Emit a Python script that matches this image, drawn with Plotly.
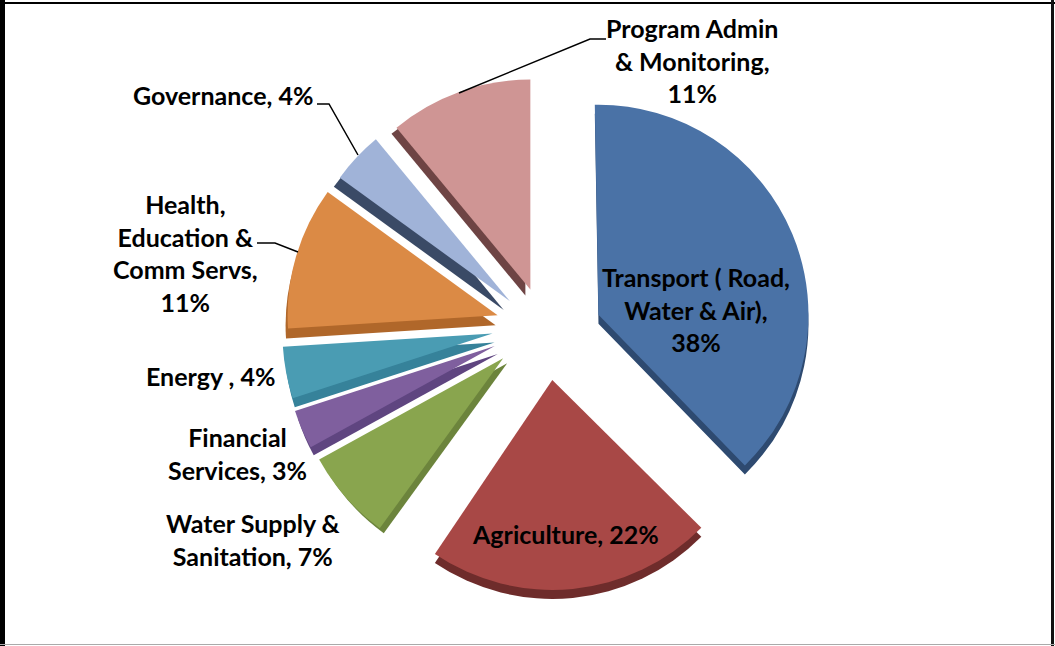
import plotly.graph_objects as go

W, H = 1055, 646
categories = ["Transport ( Road, Water & Air)", "Agriculture", "Water Supply & Sanitation",
              "Financial Services", "Energy", "Health, Education & Comm Servs",
              "Governance", "Program Admin & Monitoring"]
values = [38, 22, 7, 3, 4, 11, 4, 11]
pulls = [0.25, 0.21, 0.24, 0.24, 0.24, 0.25, 0.25, 0.22]
face_colors = ["#4A72A6", "#A84846", "#89A54E", "#7F5F9E", "#4A9CB3", "#DB8A45", "#A0B3D8", "#CF9594"]
side_colors = ["#2E4A70", "#6E2C2B", "#6C843C", "#5F4580", "#36829A", "#B0672A", "#3A4A66", "#6E4444"]
face_dx = [2, 0, -7, -7, -6, 0, 0, -2]
face_dy = [1, 2, -9, -8, -10, -4, 3, -1]
depth_dx = [0, 0, 4, 3, 2, -2, -6, -5]
depth_dy = [9, 9, 5, 8, 9, 10, 9, 6]
tilt = [-1, -2, 0, 0, 0, 0, 0, 0]

labels = ["Program Admin<br>& Monitoring,<br>11%", "Governance, 4%",
          "Health,<br>Education &<br>Comm Servs,<br>11%", "Energy , 4%",
          "Financial<br>Services, 3%", "Water Supply &<br>Sanitation, 7%",
          "Agriculture, 22%", "Transport ( Road,<br>Water & Air),<br>38%"]
label_x = [692, 223, 185, 211, 237, 253, 565, 696]
label_y = [61, 95, 253, 376, 453, 539, 534, 309]

CX, CY, R = 548, 334, 210
half = R * (1 + max(pulls))

def dom(cx, cy):
    return dict(x=[(cx - half) / W, (cx + half) / W], y=[1 - (cy + half) / H, 1 - (cy - half) / H])

def slice_trace(i, colors, dx, dy):
    cols = ["rgba(0,0,0,0)"] * len(values)
    cols[i] = colors[i]
    return go.Pie(values=values, labels=categories, sort=False, direction="clockwise", rotation=tilt[i],
                  pull=pulls, domain=dom(CX + dx, CY + dy),
                  marker=dict(colors=cols, line=dict(width=0)), textinfo="none",
                  hoverinfo="skip", showlegend=False)

fig = go.Figure()
for i in range(len(values)):
    fig.add_trace(slice_trace(i, side_colors, face_dx[i] + depth_dx[i], face_dy[i] + depth_dy[i]))
for i in range(len(values)):
    fig.add_trace(slice_trace(i, face_colors, face_dx[i], face_dy[i]))

annotations = [dict(x=x / W, y=1 - y / H, xref="paper", yref="paper", text=f"<b>{t}</b>", showarrow=False,
                    align="center", xanchor="center", yanchor="middle",
                    font=dict(family="Lato", size=25, color="#000000"))
               for t, x, y in zip(labels, label_x, label_y)]

def px(pts):
    return "M " + " L ".join(f"{x / W} {1 - y / H}" for x, y in pts)

shapes = [
    dict(type="path", xref="paper", yref="paper", path=px(p), line=dict(color="#000000", width=1.5))
    for p in ([(606, 39), (590, 39), (459, 93)], [(317, 104), (329, 104), (358, 155)], [(257, 243), (275, 243), (298, 252)])
]
shapes += [
    dict(type="rect", xref="paper", yref="paper", x0=0, x1=5 / W, y0=0, y1=1, fillcolor="#000000", line=dict(width=0)),
    dict(type="rect", xref="paper", yref="paper", x0=0, x1=1, y0=1 - 4 / H, y1=1 - 2 / H, fillcolor="#000000", line=dict(width=0)),
    dict(type="rect", xref="paper", yref="paper", x0=1051 / W, x1=1054 / W, y0=0, y1=1, fillcolor="#111111", line=dict(width=0)),
    dict(type="rect", xref="paper", yref="paper", x0=0, x1=1, y0=1 - 645 / H, y1=1 - 644 / H, fillcolor="#AAAAAA", line=dict(width=0)),
]

fig.update_layout(width=W, height=H, margin=dict(l=0, r=0, t=0, b=0), paper_bgcolor="#FFFFFF",
                  annotations=annotations, shapes=shapes, showlegend=False)
fig.write_html("out.html", config=dict(displayModeBar=False),
               post_script="document.body.style.margin='0';document.documentElement.style.overflow='hidden';")
